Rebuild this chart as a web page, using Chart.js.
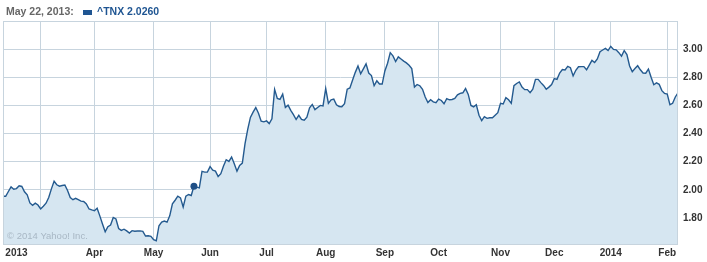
<!DOCTYPE html>
<html>
<head>
<meta charset="utf-8">
<script src="https://cdn.jsdelivr.net/npm/chart.js@4/dist/chart.umd.min.js"></script>
<style>
  html, body { margin: 0; padding: 0; background: #fff; }
  #wrap { width: 707px; height: 262px; position: relative; }
</style>
</head>
<body>
<div id="wrap"><canvas id="tnxChart" width="707" height="262"></canvas></div>
<script>
// ^TNX daily close, one value per trading day (mid Feb 2013 .. early Feb 2014)
const tnxValues = [
  1.954, 1.954, 1.988, 2.021, 2.004, 2.009, 2.029, 2.024, 1.986, 1.964,
  1.907, 1.890, 1.905, 1.892, 1.864, 1.883, 1.905, 1.945, 2.007, 2.061,
  2.036, 2.026, 2.031, 2.034, 1.995, 1.945, 1.930, 1.940, 1.930, 1.920,
  1.917, 1.900, 1.864, 1.857, 1.852, 1.869, 1.815, 1.757, 1.702, 1.738,
  1.750, 1.804, 1.793, 1.725, 1.712, 1.720, 1.708, 1.693, 1.710, 1.706,
  1.707, 1.708, 1.705, 1.672, 1.674, 1.670, 1.646, 1.638, 1.745, 1.770,
  1.778, 1.770, 1.815, 1.900, 1.926, 1.955, 1.943, 1.878, 1.955, 1.967,
  1.960, 2.026, 2.019, 2.014, 2.131, 2.126, 2.126, 2.165, 2.140, 2.133,
  2.095, 2.115, 2.170, 2.214, 2.202, 2.233, 2.185, 2.133, 2.174, 2.190,
  2.329, 2.430, 2.515, 2.552, 2.585, 2.545, 2.488, 2.483, 2.490, 2.471,
  2.505, 2.714, 2.650, 2.643, 2.680, 2.585, 2.602, 2.565, 2.535, 2.500,
  2.530, 2.500, 2.495, 2.517, 2.583, 2.607, 2.570, 2.585, 2.600, 2.597,
  2.720, 2.615, 2.640, 2.645, 2.605, 2.592, 2.590, 2.612, 2.715, 2.724,
  2.780, 2.835, 2.880, 2.825, 2.860, 2.895, 2.830, 2.812, 2.740, 2.775,
  2.752, 2.752, 2.845, 2.900, 2.975, 2.952, 2.912, 2.945, 2.930, 2.915,
  2.902, 2.885, 2.862, 2.730, 2.748, 2.740, 2.715, 2.660, 2.620, 2.640,
  2.625, 2.620, 2.645, 2.635, 2.612, 2.648, 2.640, 2.642, 2.650, 2.675,
  2.686, 2.690, 2.720, 2.678, 2.600, 2.590, 2.605, 2.530, 2.492, 2.520,
  2.508, 2.512, 2.512, 2.530, 2.548, 2.615, 2.610, 2.655, 2.640, 2.615,
  2.740, 2.756, 2.767, 2.730, 2.712, 2.712, 2.690, 2.715, 2.785, 2.785,
  2.762, 2.742, 2.715, 2.730, 2.748, 2.790, 2.785, 2.830, 2.855, 2.852,
  2.878, 2.868, 2.810, 2.850, 2.875, 2.876, 2.876, 2.853, 2.887, 2.920,
  2.905, 2.930, 2.982, 2.994, 3.005, 2.990, 3.020, 2.998, 2.995, 2.975,
  2.950, 2.990, 2.962, 2.880, 2.840, 2.862, 2.882, 2.853, 2.830, 2.829,
  2.858, 2.800, 2.747, 2.760, 2.750, 2.705, 2.685, 2.680, 2.605, 2.615,
  2.660, 2.690
];

// trading-day index of each x-axis tick, and its label
const xTickIndex  = [5, 14, 34, 56, 77, 98, 120, 142, 162, 185, 205, 226, 247];
const xTickLabels = ['2013', '', 'Apr', 'May', 'Jun', 'Jul', 'Aug', 'Sep', 'Oct', 'Nov', 'Dec', '2014', 'Feb'];
const yTicks = [1.80, 2.00, 2.20, 2.40, 2.60, 2.80, 3.00];

const highlightIndex = 71;
const headerDate = 'May 22, 2013:';
const headerSeries = '^TNX 2.0260';

const LINE_COLOR = '#245a8f';
const FILL_COLOR = '#d6e6f1';
const GRID_COLOR = '#c7d4de';
const TICK_COLOR = '#333333';
const FONT = "'Liberation Sans', Arial, sans-serif";

const points = tnxValues.map((v, i) => ({ x: i, y: v }));

const decorPlugin = {
    id: 'decor',
    beforeDraw(chart) {
        const c = chart.ctx;
        c.save();
        c.fillStyle = '#ffffff';
        c.fillRect(0, 0, chart.width, chart.height);
        c.restore();
    },
    afterDatasetsDraw(chart) {
        const c = chart.ctx;
        const a = chart.chartArea;
        c.save();
        // watermark
        c.font = '9.5px ' + FONT;
        c.fillStyle = '#a8b7c4';
        c.textBaseline = 'alphabetic';
        c.fillText('\u00a9 2014 Yahoo! Inc.', a.left + 4, a.bottom - 5);
        // plot frame
        c.strokeStyle = GRID_COLOR;
        c.lineWidth = 1;
        c.strokeRect(Math.round(a.left) + 0.5, Math.round(a.top) + 0.5,
                     Math.round(a.right - a.left) - 1, Math.round(a.bottom - a.top));
        c.restore();
    },
    afterDraw(chart) {
        const c = chart.ctx;
        c.save();
        c.textBaseline = 'middle';
        c.font = 'bold 10.5px ' + FONT;
        c.fillStyle = '#666666';
        c.fillText(headerDate, 6, 12);
        c.fillStyle = '#1f5592';
        c.fillRect(83, 10, 9, 5);
        c.fillText(headerSeries, 97, 12);
        c.restore();
    }
};

new Chart(document.getElementById('tnxChart'), {
    type: 'line',
    data: {
        datasets: [{
            label: '^TNX',
            data: points,
            borderColor: LINE_COLOR,
            backgroundColor: FILL_COLOR,
            borderWidth: 1.4,
            fill: 'start',
            tension: 0,
            pointRadius: ctx => ctx.dataIndex === highlightIndex ? 3.5 : 0,
            pointBackgroundColor: '#1f4f86',
            pointBorderWidth: 0
        }]
    },
    options: {
        responsive: false,
        animation: false,
        events: [],
        layout: { padding: { top: 21, left: 3, right: 0, bottom: 0 } },
        plugins: { legend: { display: false }, tooltip: { enabled: false } },
        scales: {
            x: {
                type: 'linear',
                min: 0,
                max: tnxValues.length - 1,
                afterBuildTicks: s => { s.ticks = xTickIndex.map(v => ({ value: v })); },
                afterFit: s => { s.height = 18; },
                grid: {
                    color: ctx => (ctx.tick && ctx.tick.value === xTickIndex[0]) ? 'rgba(0,0,0,0)' : GRID_COLOR,
                    drawTicks: false
                },
                border: { display: false },
                ticks: {
                    autoSkip: false,
                    maxRotation: 0,
                    padding: 3,
                    color: TICK_COLOR,
                    font: { family: FONT, size: 10, weight: 'bold' },
                    callback: (v) => xTickLabels[xTickIndex.indexOf(v)]
                }
            },
            y: {
                type: 'linear',
                position: 'right',
                min: 1.615,
                max: 3.2,
                afterBuildTicks: s => { s.ticks = yTicks.map(v => ({ value: v })); },
                afterFit: s => { s.width = 29; },
                grid: { color: GRID_COLOR, drawTicks: false },
                border: { display: false },
                ticks: {
                    padding: 5,
                    color: TICK_COLOR,
                    font: { family: FONT, size: 10, weight: 'bold' },
                    callback: v => v.toFixed(2)
                }
            }
        }
    },
    plugins: [decorPlugin]
});
</script>
</body>
</html>
